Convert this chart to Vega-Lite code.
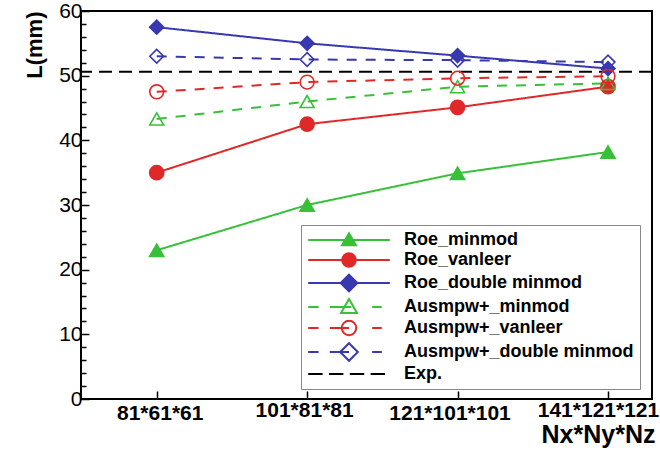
{
  "$schema": "https://vega.github.io/schema/vega-lite/v6.json",
  "autosize": "none",
  "width": 571,
  "height": 388,
  "padding": {"left": 81, "top": 11, "right": 8, "bottom": 60},
  "background": "white",
  "config": {
    "view": {"stroke": "black", "strokeWidth": 2},
    "font": "Liberation Sans"
  },
  "datasets": {
    "pts": [
      {"grid": "81*61*61", "series": "Roe_minmod", "L": 23.0},
      {"grid": "101*81*81", "series": "Roe_minmod", "L": 30.0},
      {"grid": "121*101*101", "series": "Roe_minmod", "L": 34.9},
      {"grid": "141*121*121", "series": "Roe_minmod", "L": 38.2},
      {"grid": "81*61*61", "series": "Roe_vanleer", "L": 35.0},
      {"grid": "101*81*81", "series": "Roe_vanleer", "L": 42.5},
      {"grid": "121*101*101", "series": "Roe_vanleer", "L": 45.1},
      {"grid": "141*121*121", "series": "Roe_vanleer", "L": 48.3},
      {"grid": "81*61*61", "series": "Roe_double minmod", "L": 57.5},
      {"grid": "101*81*81", "series": "Roe_double minmod", "L": 55.0},
      {"grid": "121*101*101", "series": "Roe_double minmod", "L": 53.1},
      {"grid": "141*121*121", "series": "Roe_double minmod", "L": 51.1},
      {"grid": "81*61*61", "series": "Ausmpw+_minmod", "L": 43.3},
      {"grid": "101*81*81", "series": "Ausmpw+_minmod", "L": 46.0},
      {"grid": "121*101*101", "series": "Ausmpw+_minmod", "L": 48.3},
      {"grid": "141*121*121", "series": "Ausmpw+_minmod", "L": 48.8},
      {"grid": "81*61*61", "series": "Ausmpw+_vanleer", "L": 47.5},
      {"grid": "101*81*81", "series": "Ausmpw+_vanleer", "L": 49.0},
      {"grid": "121*101*101", "series": "Ausmpw+_vanleer", "L": 49.6},
      {"grid": "141*121*121", "series": "Ausmpw+_vanleer", "L": 49.9},
      {"grid": "81*61*61", "series": "Ausmpw+_double minmod", "L": 53.0},
      {"grid": "101*81*81", "series": "Ausmpw+_double minmod", "L": 52.5},
      {"grid": "121*101*101", "series": "Ausmpw+_double minmod", "L": 52.4},
      {"grid": "141*121*121", "series": "Ausmpw+_double minmod", "L": 52.1}
    ],
    "exp": [{"series": "Exp.", "L": 50.6}]
  },
  "encoding": {
    "x": {
      "field": "grid", "type": "ordinal",
      "scale": {"type": "point", "padding": 0, "range": [75.7, 527], "domain": ["81*61*61", "101*81*81", "121*101*101", "141*121*121"]},
      "axis": {
        "domain": false, "grid": false,
        "labelAngle": 0,
        "labelFont": "Liberation Sans", "labelFontSize": 21, "labelFontWeight": "bold", "labelColor": "black",
        "labelPadding": {"condition": {"test": "datum.value === '101*81*81' || datum.value === '141*121*121'", "value": 8}, "value": 11},
        "labelOffset": {"condition": [
          {"test": "datum.value === '81*61*61'", "value": 3},
          {"test": "datum.value === '101*81*81'", "value": -3},
          {"test": "datum.value === '121*101*101'", "value": -8}
        ], "value": -10},
        "tickSize": -8, "tickColor": "black", "tickWidth": 1.5,
        "title": "Nx*Ny*Nz", "titleFont": "Liberation Sans", "titleFontSize": 25, "titleFontWeight": "bold", "titleColor": "black",
        "titleX": 574, "titleY": 43, "titleAlign": "right", "titleBaseline": "alphabetic", "titleAnchor": "end"
      }
    },
    "y": {
      "field": "L", "type": "quantitative",
      "scale": {"domain": [0, 60], "nice": false},
      "axis": {
        "domain": false, "grid": false,
        "values": [0,2,4,6,8,10,12,14,16,18,20,22,24,26,28,30,32,34,36,38,40,42,44,46,48,50,52,54,56,58,60],
        "labelExpr": "datum.value % 10 === 0 ? datum.label : ''",
        "labelOverlap": false,
        "labelFont": "Liberation Sans", "labelFontSize": 21, "labelColor": "black", "labelPadding": 7,
        "tickSize": {"condition": {"test": "datum.value % 10 === 0", "value": -8}, "value": -5},
        "tickColor": "black", "tickWidth": 1.5,
        "title": "L(mm)", "titleFont": "Liberation Sans", "titleFontSize": 22, "titleFontWeight": "bold", "titleColor": "black",
        "titleAnchor": "end", "titlePadding": 12
      }
    }
  },
  "layer": [
    {
      "data": {"name": "pts"},
      "mark": {"type": "line", "strokeWidth": 2},
      "encoding": {
        "color": {
          "field": "series", "type": "nominal", "legend": null,
          "scale": {"domain": ["Roe_minmod", "Roe_vanleer", "Roe_double minmod", "Ausmpw+_minmod", "Ausmpw+_vanleer", "Ausmpw+_double minmod"],
                    "range": ["#38c038", "#e02828", "#3838b0", "#38c038", "#e02828", "#3838b0"]}
        },
        "strokeDash": {
          "field": "series", "type": "nominal", "legend": null,
          "scale": {"domain": ["Roe_minmod", "Roe_vanleer", "Roe_double minmod", "Ausmpw+_minmod", "Ausmpw+_vanleer", "Ausmpw+_double minmod"],
                    "range": [[1, 0], [1, 0], [1, 0], [10, 9], [10, 9], [10, 9]]}
        }
      }
    },
    {
      "data": {"name": "exp"},
      "mark": {"type": "rule", "color": "black", "strokeWidth": 2, "strokeDash": [13, 7]},
      "encoding": {"y": {"field": "L", "type": "quantitative"}, "x": null}
    },
    {
      "data": {"name": "pts"},
      "mark": {"type": "point", "strokeWidth": 1.6, "opacity": 1},
      "encoding": {
        "shape": {
          "field": "series", "type": "nominal", "legend": null,
          "scale": {"domain": ["Roe_minmod", "Roe_vanleer", "Roe_double minmod", "Ausmpw+_minmod", "Ausmpw+_vanleer", "Ausmpw+_double minmod"],
                    "range": ["triangle-up", "circle", "diamond", "triangle-up", "circle", "diamond"]}
        },
        "fill": {
          "field": "series", "type": "nominal", "legend": null,
          "scale": {"domain": ["Roe_minmod", "Roe_vanleer", "Roe_double minmod", "Ausmpw+_minmod", "Ausmpw+_vanleer", "Ausmpw+_double minmod"],
                    "range": ["#38c038", "#e02828", "#3838b0", "transparent", "transparent", "transparent"]}
        },
        "stroke": {
          "field": "series", "type": "nominal", "legend": null,
          "scale": {"domain": ["Roe_minmod", "Roe_vanleer", "Roe_double minmod", "Ausmpw+_minmod", "Ausmpw+_vanleer", "Ausmpw+_double minmod"],
                    "range": ["#38c038", "#e02828", "#3838b0", "#38c038", "#e02828", "#3838b0"]}
        },
        "size": {
          "field": "series", "type": "nominal", "legend": null,
          "scale": {"domain": ["Roe_minmod", "Roe_vanleer", "Roe_double minmod", "Ausmpw+_minmod", "Ausmpw+_vanleer", "Ausmpw+_double minmod"],
                    "range": [200, 190, 250, 290, 220, 320]}
        }
      }
    },
    {
      "data": {"name": "pts"},
      "mark": {"type": "point", "opacity": 0, "strokeWidth": 2},
      "encoding": {
        "shape": {
          "field": "series", "type": "nominal",
          "scale": {"domain": ["Roe_minmod", "Roe_vanleer", "Roe_double minmod", "Ausmpw+_minmod", "Ausmpw+_vanleer", "Ausmpw+_double minmod", "Exp."],
                    "range": [
                      "M-5.1,0H5.1M0,-0.85L0.875,0.65L-0.875,0.65Z",
                      "M-5.1,0H5.1M0.85,0A0.85,0.85,0,1,1,-0.85,0A0.85,0.85,0,1,1,0.85,0Z",
                      "M-5.1,0H5.1M0,-1.05L1.05,0L0,1.05L-1.05,0Z",
                      "M-5.1,0H-3.8M-2.4,0H0.3M2.9,0H4.1M0,-1L1,0.75L-1,0.75Z",
                      "M-5.1,0H-3.8M-2.4,0H0M2.9,0H4.1M0.9,0A0.9,0.9,0,1,1,-0.9,0A0.9,0.9,0,1,1,0.9,0Z",
                      "M-5.1,0H-3.8M-2.4,0H0M2.9,0H4.1M0,-1.1L1.1,0L0,1.1L-1.1,0Z",
                      "M-5.1,0H-3.3M-2.5,0H-0.7M0.1,0H1.9M2.7,0H4.5"
                    ]},
          "legend": {
            "orient": "none", "legendX": 220, "legendY": 214, "title": null,
            "padding": 6, "strokeColor": "#888888", "fillColor": "white",
            "symbolSize": 256, "symbolStrokeWidth": 2, "symbolOffset": 33, "labelOffset": 46,
            "labelFont": "Liberation Sans", "labelFontSize": 18, "labelFontWeight": "bold", "labelColor": "black", "labelLimit": 400,
            "rowPadding": -1,
            "encode": {"symbols": {"update": {"opacity": {"value": 1}}}}
          }
        },
        "fill": {
          "field": "series", "type": "nominal",
          "scale": {"domain": ["Roe_minmod", "Roe_vanleer", "Roe_double minmod", "Ausmpw+_minmod", "Ausmpw+_vanleer", "Ausmpw+_double minmod", "Exp."],
                    "range": ["#38c038", "#e02828", "#3838b0", "transparent", "transparent", "transparent", "transparent"]},
          "legend": {
            "orient": "none", "legendX": 220, "legendY": 214, "title": null,
            "padding": 6, "strokeColor": "#888888", "fillColor": "white",
            "symbolSize": 256, "symbolStrokeWidth": 2, "symbolOffset": 33, "labelOffset": 46,
            "labelFont": "Liberation Sans", "labelFontSize": 18, "labelFontWeight": "bold", "labelColor": "black", "labelLimit": 400,
            "rowPadding": -1,
            "encode": {"symbols": {"update": {"opacity": {"value": 1}}}}
          }
        },
        "stroke": {
          "field": "series", "type": "nominal",
          "scale": {"domain": ["Roe_minmod", "Roe_vanleer", "Roe_double minmod", "Ausmpw+_minmod", "Ausmpw+_vanleer", "Ausmpw+_double minmod", "Exp."],
                    "range": ["#38c038", "#e02828", "#3838b0", "#38c038", "#e02828", "#3838b0", "black"]},
          "legend": {
            "orient": "none", "legendX": 220, "legendY": 214, "title": null,
            "padding": 6, "strokeColor": "#888888", "fillColor": "white",
            "symbolSize": 256, "symbolStrokeWidth": 2, "symbolOffset": 33, "labelOffset": 46,
            "labelFont": "Liberation Sans", "labelFontSize": 18, "labelFontWeight": "bold", "labelColor": "black", "labelLimit": 400,
            "rowPadding": -1,
            "encode": {"symbols": {"update": {"opacity": {"value": 1}}}}
          }
        }
      }
    }
  ],
  "resolve": {"scale": {"shape": "independent", "fill": "independent", "stroke": "independent", "color": "independent", "size": "independent", "strokeDash": "independent"}}
}
